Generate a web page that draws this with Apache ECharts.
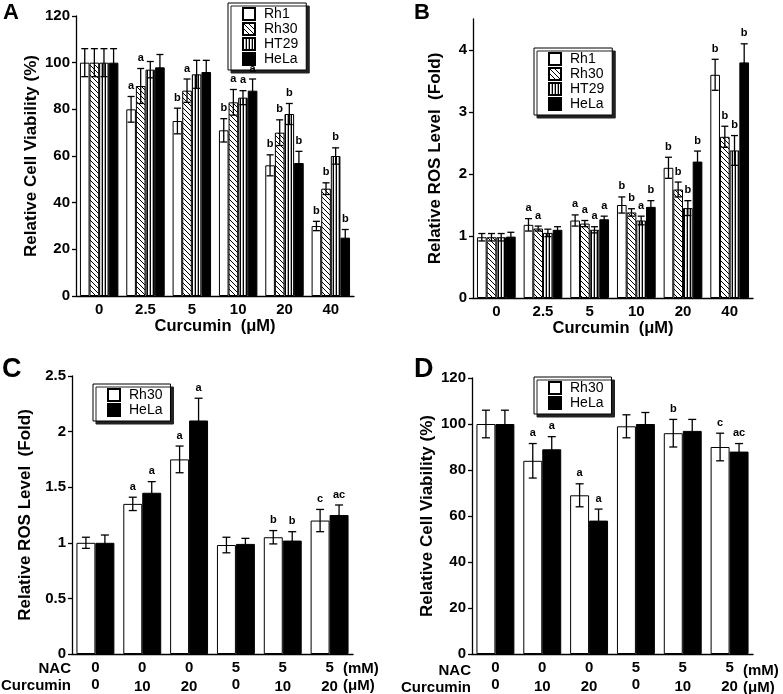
<!DOCTYPE html>
<html><head><meta charset="utf-8">
<script src="https://cdn.jsdelivr.net/npm/echarts@6/dist/echarts.min.js"></script>
<style>html,body{margin:0;padding:0;background:#fff}#c{width:783px;height:694px}</style>
</head><body><div id="c"></div>
<script>
// ---------- DATA ----------
const catsAB = ['0', '2.5', '5', '10', '20', '40'];
const namesAB = ['Rh1', 'Rh30', 'HT29', 'HeLa'];

// Panel A: Relative cell viability (%)
const viabRh1 = [100, 80, 75, 71, 56, 30];
const viabRh30 = [100, 90, 88, 83, 70, 46];
const viabHT29 = [100, 97, 95, 85, 78, 60];
const viabHeLa = [100, 98, 96, 88, 57, 25];
const viabErrRh1 = [6, 5.5, 5.5, 5, 4.5, 2];
const viabErrRh30 = [6, 7.5, 5, 5.5, 5.5, 2.5];
const viabErrHT29 = [6, 3.5, 6, 3, 4.5, 3.5];
const viabErrHeLa = [6, 5.5, 5, 5, 5, 3.5];
const viabSigRh1 = ['', 'a', 'b', 'b', 'b', 'b'];
const viabSigRh30 = ['', 'a', 'a', 'a', 'b', 'b'];
const viabSigHT29 = ['', '', '', 'a', 'b', 'b'];
const viabSigHeLa = ['', '', '', 'a', 'b', 'b'];

// Panel B: Relative ROS level (fold)
const rosRh1 = [0.98, 1.18, 1.25, 1.5, 2.1, 3.6];
const rosRh30 = [0.98, 1.12, 1.2, 1.38, 1.75, 2.6];
const rosHT29 = [0.98, 1.05, 1.1, 1.25, 1.45, 2.38];
const rosHeLa = [0.99, 1.1, 1.27, 1.47, 2.2, 3.8];
const rosErrRh1 = [0.06, 0.1, 0.09, 0.13, 0.17, 0.25];
const rosErrRh30 = [0.06, 0.04, 0.05, 0.06, 0.12, 0.17];
const rosErrHT29 = [0.06, 0.06, 0.05, 0.07, 0.12, 0.24];
const rosErrHeLa = [0.07, 0.05, 0.05, 0.1, 0.17, 0.3];
const rosSigRh1 = ['', 'a', 'a', 'b', 'b', 'b'];
const rosSigRh30 = ['', 'a', 'a', 'b', 'b', 'b'];
const rosSigHT29 = ['', '', 'a', 'a', 'b', 'b'];
const rosSigHeLa = ['', '', 'a', 'b', 'b', 'b'];

// Panels C & D: NAC / Curcumin
const nacVals = ['0', '0', '0', '5', '5', '5'];
const curVals = ['0', '10', '20', '0', '10', '20'];
const namesCD = ['Rh30', 'HeLa'];

const nacRosRh30 = [1.0, 1.35, 1.75, 0.98, 1.05, 1.2];
const nacRosHeLa = [1.0, 1.45, 2.1, 0.99, 1.02, 1.25];
const nacRosErrRh30 = [0.05, 0.06, 0.12, 0.07, 0.06, 0.1];
const nacRosErrHeLa = [0.07, 0.1, 0.2, 0.05, 0.08, 0.09];
const nacRosSigRh30 = ['', 'a', 'a', '', 'b', 'c'];
const nacRosSigHeLa = ['', 'a', 'a', '', 'b', 'ac'];

const nacViabRh30 = [100, 84, 69, 99, 96, 90];
const nacViabHeLa = [100, 89, 58, 100, 97, 88];
const nacViabErrRh30 = [6, 7.5, 5, 5, 6, 6];
const nacViabErrHeLa = [6, 5.5, 5, 5, 5, 3.5];
const nacViabSigRh30 = ['', 'a', 'a', '', 'b', 'c'];
const nacViabSigHeLa = ['', 'a', 'a', '', '', 'ac'];

// ---------- STYLE HELPERS ----------
function makePattern(kind) {
  const c = document.createElement('canvas');
  const ctx = c.getContext('2d');
  if (kind === 'hatch') {
    c.width = 5; c.height = 5;
    ctx.fillStyle = '#fff'; ctx.fillRect(0, 0, 5, 5);
    ctx.strokeStyle = '#000'; ctx.lineWidth = 1;
    ctx.beginPath();
    ctx.moveTo(-1, -1); ctx.lineTo(6, 6);
    ctx.moveTo(-1, 4); ctx.lineTo(1, 6);
    ctx.moveTo(4, -1); ctx.lineTo(6, 1);
    ctx.stroke();
  } else {
    c.width = 3; c.height = 3;
    ctx.fillStyle = '#fff'; ctx.fillRect(0, 0, 3, 3);
    ctx.fillStyle = '#000'; ctx.fillRect(0, 0, 1, 3);
    ctx.fillStyle = '#aaa'; ctx.fillRect(2, 0, 1, 3);
  }
  return { image: c, repeat: 'repeat' };
}
const fillsAB = ['#ffffff', makePattern('hatch'), makePattern('vert'), '#000000'];
const fillsCD = ['#ffffff', '#000000'];

const FONT = '"Liberation Sans", Arial, Helvetica, sans-serif';

const gridsPos = [
  { left: 76, top: 16, width: 278, height: 280 },
  { left: 473, top: 19, width: 280, height: 279 },
  { left: 72, top: 376, width: 281, height: 279 },
  { left: 472, top: 378, width: 281, height: 280 }
];

const catGapAB = 0.17, catGapCD = 0.19;

function yAxis(gi, max, interval, name, gap, custom) {
  const ax = {
    type: 'value', gridIndex: gi, min: 0, max: max, interval: interval,
    name: name, nameLocation: 'middle', nameGap: gap,
    nameTextStyle: { fontFamily: FONT, fontWeight: 'bold', fontSize: 17, color: '#000' },
    axisLine: { show: true, lineStyle: { color: '#000', width: 1.3 } },
    axisTick: { show: true, inside: false, length: 4, lineStyle: { color: '#000', width: 1.3 } },
    axisLabel: { color: '#000', fontFamily: FONT, fontWeight: 'bold', fontSize: 15, margin: 6 },
    splitLine: { show: false }
  };
  if (custom) {
    ax.axisTick.customValues = custom;
    ax.axisLabel.customValues = custom;
  }
  return ax;
}

function xAxisAB(gi) {
  return {
    type: 'category', gridIndex: gi, data: catsAB,
    name: 'Curcumin  (\u03bcM)', nameLocation: 'middle', nameGap: 21,
    nameTextStyle: { fontFamily: FONT, fontWeight: 'bold', fontSize: 16.5, color: '#000' },
    axisLine: { show: true, lineStyle: { color: '#000', width: 1.3 } },
    axisTick: { show: false },
    axisLabel: { interval: 0, color: '#000', fontFamily: FONT, fontWeight: 'bold', fontSize: 15, margin: 6 }
  };
}
function xAxisCD(gi) {
  return {
    type: 'category', gridIndex: gi, data: nacVals.map((n, i) => n + '|' + curVals[i]),
    axisLine: { show: true, lineStyle: { color: '#000', width: 1.3 } },
    axisTick: { show: false },
    axisLabel: {
      interval: 0,
      color: '#000', fontFamily: FONT, fontWeight: 'bold', fontSize: 15, margin: 5,
      formatter: function (v) {
        const p = v.split('|');
        const low = p[1] !== '0';
        return '{a|' + p[0] + '}\n' + (low ? '{c|' + p[1] + '}' : '{b|' + p[1] + '}');
      },
      rich: {
        a: { fontFamily: FONT, fontWeight: 'bold', fontSize: 15, lineHeight: 17, color: '#000' },
        b: { fontFamily: FONT, fontWeight: 'bold', fontSize: 15, lineHeight: 17, color: '#000' },
        c: { fontFamily: FONT, fontWeight: 'bold', fontSize: 15, lineHeight: 17, color: '#000', padding: [4, 0, 0, 0] }
      }
    }
  };
}

function barSeries(name, gi, vals, fill, gap) {
  return {
    type: 'bar', name: name, xAxisIndex: gi, yAxisIndex: gi, data: vals,
    barGap: '0%', barCategoryGap: (gap * 100) + '%',
    itemStyle: { color: fill, borderColor: '#000', borderWidth: 1 },
    emphasis: { disabled: true }, silent: true
  };
}

function errSeries(gi, valsArr, errArr, sigArr, gap, capHalf) {
  const data = [];
  const n = valsArr.length;
  valsArr.forEach((vals, si) => {
    vals.forEach((v, ci) => data.push([ci, v, errArr[si][ci], si, sigArr[si][ci]]));
  });
  return {
    type: 'custom', xAxisIndex: gi, yAxisIndex: gi, data: data, silent: true, z: 5,
    encode: { x: 0, y: 1 },
    renderItem: function (params, api) {
      const ci = api.value(0), v = api.value(1), e = api.value(2), si = api.value(3);
      const lab = data[params.dataIndex][4];
      const c = api.coord([ci, v]);
      const catW = api.size([1, 0])[0];
      const groupW = catW * (1 - gap);
      const bw = groupW / n;
      const x = c[0] - groupW / 2 + bw * (si + 0.5);
      const yTop = api.coord([ci, v + e])[1];
      const yBot = api.coord([ci, v - e])[1];
      const ls = { stroke: '#000', lineWidth: 1.3 };
      const children = [
        { type: 'line', shape: { x1: x, y1: yTop, x2: x, y2: yBot }, style: ls },
        { type: 'line', shape: { x1: x - capHalf, y1: yTop, x2: x + capHalf, y2: yTop }, style: ls },
        { type: 'line', shape: { x1: x - capHalf, y1: yBot, x2: x + capHalf, y2: yBot }, style: ls }
      ];
      if (lab) {
        children.push({
          type: 'text', x: x, y: yTop - 5,
          style: { text: lab, textAlign: 'center', textVerticalAlign: 'bottom',
                   font: 'bold 11px ' + FONT, fill: '#000' }
        });
      }
      return { type: 'group', children: children };
    }
  };
}

function legend(left, top, names, fmt) {
  return {
    left: left, top: top, orient: 'vertical', data: names,
    icon: 'rect',
    itemWidth: 12, itemHeight: 12, itemGap: 1,
    padding: [4, 8, 4, 14],
    backgroundColor: '#fff', borderColor: '#000', borderWidth: 1,
    shadowColor: '#222', shadowBlur: 0, shadowOffsetX: 3, shadowOffsetY: 3,
    selectedMode: false,
    formatter: fmt,
    textStyle: { fontFamily: FONT, fontSize: 14, color: '#000', lineHeight: 12, padding: [0, 0, 0, 4] }
  };
}

const cdName = (nm) => 'NAC-' + nm;

const option = {
  animation: false,
  backgroundColor: '#fff',
  grid: gridsPos.map(g => Object.assign({ containLabel: false }, g)),
  xAxis: [xAxisAB(0), xAxisAB(1), xAxisCD(2), xAxisCD(3)],
  yAxis: [
    yAxis(0, 120, 20, 'Relative Cell Viability (%)', 36),
    yAxis(1, 4.5, 1, 'Relative ROS Level  (Fold)', 29, [0, 1, 2, 3, 4]),
    yAxis(2, 2.5, 0.5, 'Relative ROS Level  (Fold)', 38),
    yAxis(3, 120, 20, 'Relative Cell Viability (%)', 36)
  ],
  legend: [
    legend(228, 3, namesAB),
    legend(534, 48, namesAB),
    legend(93, 384, namesCD.map(cdName), n => n.replace('NAC-', '')),
    legend(534, 377, namesCD.map(cdName), n => n.replace('NAC-', ''))
  ],
  series: [
    barSeries('Rh1', 0, viabRh1, fillsAB[0], catGapAB),
    barSeries('Rh30', 0, viabRh30, fillsAB[1], catGapAB),
    barSeries('HT29', 0, viabHT29, fillsAB[2], catGapAB),
    barSeries('HeLa', 0, viabHeLa, fillsAB[3], catGapAB),
    errSeries(0, [viabRh1, viabRh30, viabHT29, viabHeLa],
      [viabErrRh1, viabErrRh30, viabErrHT29, viabErrHeLa],
      [viabSigRh1, viabSigRh30, viabSigHT29, viabSigHeLa], catGapAB, 3.5),

    barSeries('Rh1', 1, rosRh1, fillsAB[0], catGapAB),
    barSeries('Rh30', 1, rosRh30, fillsAB[1], catGapAB),
    barSeries('HT29', 1, rosHT29, fillsAB[2], catGapAB),
    barSeries('HeLa', 1, rosHeLa, fillsAB[3], catGapAB),
    errSeries(1, [rosRh1, rosRh30, rosHT29, rosHeLa],
      [rosErrRh1, rosErrRh30, rosErrHT29, rosErrHeLa],
      [rosSigRh1, rosSigRh30, rosSigHT29, rosSigHeLa], catGapAB, 3.5),

    barSeries(cdName('Rh30'), 2, nacRosRh30, fillsCD[0], catGapCD),
    barSeries(cdName('HeLa'), 2, nacRosHeLa, fillsCD[1], catGapCD),
    errSeries(2, [nacRosRh30, nacRosHeLa], [nacRosErrRh30, nacRosErrHeLa],
      [nacRosSigRh30, nacRosSigHeLa], catGapCD, 4),

    barSeries(cdName('Rh30'), 3, nacViabRh30, fillsCD[0], catGapCD),
    barSeries(cdName('HeLa'), 3, nacViabHeLa, fillsCD[1], catGapCD),
    errSeries(3, [nacViabRh30, nacViabHeLa], [nacViabErrRh30, nacViabErrHeLa],
      [nacViabSigRh30, nacViabSigHeLa], catGapCD, 4)
  ],
  graphic: [
    { type: 'text', left: 3, top: 2, style: { text: 'A', font: 'bold 22px ' + FONT, fill: '#000' } },
    { type: 'text', left: 414, top: 2, style: { text: 'B', font: 'bold 22px ' + FONT, fill: '#000' } },
    { type: 'text', left: 2, top: 356, style: { text: 'C', font: 'bold 27px ' + FONT, fill: '#000' } },
    { type: 'text', left: 414, top: 356, style: { text: 'D', font: 'bold 27px ' + FONT, fill: '#000' } },
    { type: 'text', right: 783 - 71, top: 661, style: { text: 'NAC', font: 'bold 15px ' + FONT, fill: '#000', textAlign: 'right' } },
    { type: 'text', right: 783 - 71, top: 678, style: { text: 'Curcumin', font: 'bold 15px ' + FONT, fill: '#000', textAlign: 'right' } },
    { type: 'text', left: 343, top: 661, style: { text: '(mM)', font: 'bold 15px ' + FONT, fill: '#000' } },
    { type: 'text', left: 343, top: 678, style: { text: '(\u03bcM)', font: 'bold 15px ' + FONT, fill: '#000' } },
    { type: 'text', right: 783 - 471, top: 663, style: { text: 'NAC', font: 'bold 15px ' + FONT, fill: '#000', textAlign: 'right' } },
    { type: 'text', right: 783 - 471, top: 680, style: { text: 'Curcumin', font: 'bold 15px ' + FONT, fill: '#000', textAlign: 'right' } },
    { type: 'text', left: 743, top: 663, style: { text: '(mM)', font: 'bold 15px ' + FONT, fill: '#000' } },
    { type: 'text', left: 743, top: 680, style: { text: '(\u03bcM)', font: 'bold 15px ' + FONT, fill: '#000' } }
  ]
};

const chart = echarts.init(document.getElementById('c'), null, { renderer: 'canvas' });
chart.setOption(option);
</script>
</body></html>
